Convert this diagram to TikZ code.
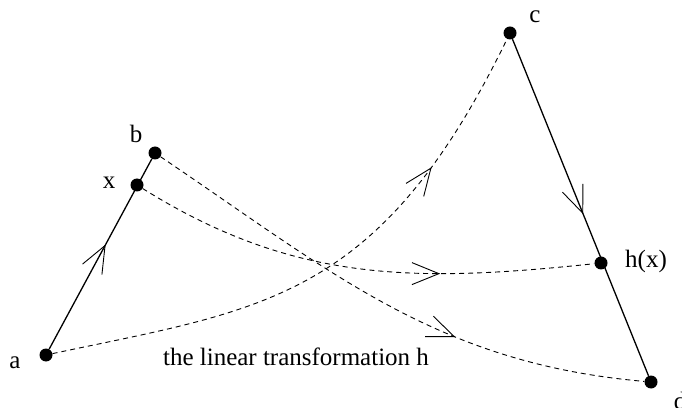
\documentclass[tikz,border=0pt]{standalone}
\usepackage{fontspec}
\setmainfont{Liberation Serif}
\usetikzlibrary{arrows.meta,decorations.markings}

\begin{document}
\begin{tikzpicture}[x=1pt, y=1pt,
    every node/.style={font=\fontsize{25}{30}\selectfont},
    pt/.style={circle, fill=black, inner sep=0pt, minimum size=13pt},
    seg/.style={line width=1.3pt},
    map/.style={line width=0.9pt, dash pattern=on 5pt off 4pt},
    midarrow/.style={postaction={decorate, decoration={markings,
        mark=at position #1 with {\arrow[solid, line width=0.9pt]{Straight Barb[length=27pt, width=22pt]}}}}}]

  \useasboundingbox (0,0) rectangle (682,407);

  % the segment [a,b] and its image [c,d]
  \node [pt] (a) at (46,52) {};
  \node [pt] (b) at (155,254) {};
  \node [pt] (x) at (137,222) {};
  \node [pt] (c) at (510,374) {};
  \node [pt] (hx) at (601,144) {};
  \node [pt] (d) at (651,25) {};

  \node (la) at (15,44) {a};
  \node (lb) at (136,273.5) {b};
  \node (lx) at (109,224) {x};
  \node (lc) at (535,390) {c};
  \node (lhx) at (646,145.5) {h(x)};
  \node (ld) at (680,6.5) {d};

  \draw [seg, midarrow=0.55] (a) -- (b) ;

  \draw [seg, midarrow=0.52] (c) -- (d) ;

  % where h sends the points
  \draw [map, midarrow=0.745] (a) to [out=12, in=-116, in looseness=1.35] (c) ;

  \draw [map, midarrow=0.67] (x) to [out=-32, in=186] (hx) ;

  \draw [map, midarrow=0.64] (b) to [out=-34, in=175] (d) ;

  \node (cap) at (296,50.5) {the linear transformation h} ;

\end{tikzpicture}
\end{document}
